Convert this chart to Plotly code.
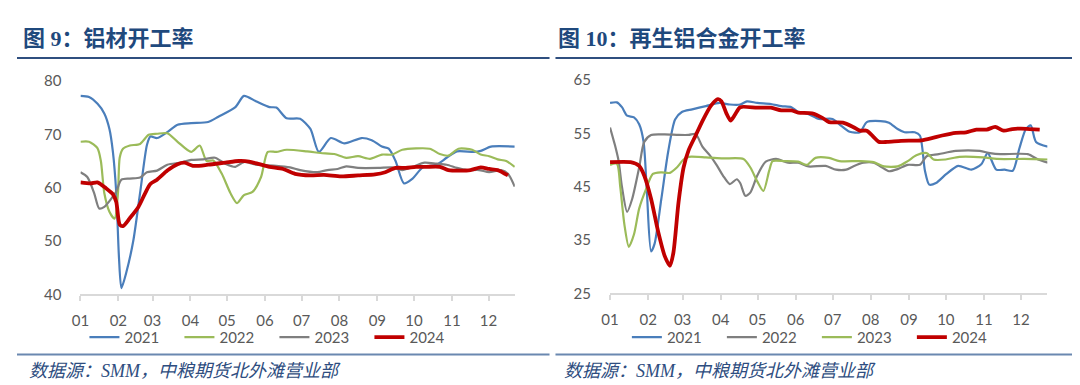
import pandas as pd
import plotly.graph_objects as go

# ---------------- data ----------------
MONTH_LABELS = ["01", "02", "03", "04", "05", "06", "07", "08", "09", "10", "11", "12"]
LEFT_TITLE = "图 9：铝材开工率"
RIGHT_TITLE = "图 10：再生铝合金开工率"
SOURCE = "数据源：SMM，中粮期货北外滩营业部"

# Left chart: aluminium products operating rate (day-of-year, value)
alu21_day = [0, 7, 14, 19.5, 23.7, 26.5, 29.3, 31.5, 33.5, 37.6, 43.2, 48.8, 54.4, 57.2, 62.7, 71.1, 79.5, 90.6,
             104.5, 112.9, 126.8, 133.8, 143.6, 154.7, 160.3, 168.7, 179.8, 188.2, 195.1, 204.9, 216.1, 230, 238.4,
             246.7, 252.3, 257.9, 264.8, 271.8, 280.2, 291.3, 299.7, 308.1, 322, 327.6, 336, 355.4]
alu21_val = [77.2, 77.0, 75.7, 73.9, 71.0, 66.8, 59.0, 47.0, 41.2, 44.2, 50.0, 59.0, 68.0, 69.6, 69.3, 70.4, 71.8, 72.1,
             72.3, 73.3, 75.1, 77.2, 76.2, 75.1, 75.0, 73.0, 72.9, 71.0, 66.7, 69.3, 68.3, 69.3, 68.9,
             67.7, 67.3, 65.0, 60.8, 61.7, 63.8, 64.3, 65.6, 66.8, 66.7, 66.9, 67.7, 67.7]

alu22_day = [0, 7, 13.9, 16.7, 19.5, 23.7, 27.9, 30.7, 32.1, 34.8, 40.4, 48.8, 55.8, 62.7, 71.1, 79.5, 90.6, 97.6,
             103.2, 108.7, 115.7, 122.7, 128.2, 133.8, 140.8, 147.8, 153.3, 160.3, 168.7, 185.4, 196.5, 207.7,
             217.5, 227.2, 237, 246.7, 255.1, 263.4, 285.8, 294.1, 301.1, 309.4, 320.6, 327.6, 334.5, 341.5,
             348.5, 355.4]
alu22_val = [68.6, 68.6, 67.4, 65.0, 59.0, 55.5, 54.2, 59.0, 65.6, 67.3, 67.9, 68.2, 69.9, 70.1, 70.2, 68.6, 66.7, 67.9,
             65.0, 65.1, 62.6, 59.0, 57.1, 58.6, 59.2, 62.0, 66.7, 66.7, 67.1, 66.8, 66.5, 66.3,
             65.6, 65.9, 65.4, 66.2, 66.2, 67.1, 67.3, 66.3, 66.0, 67.3, 67.1, 66.2, 65.9, 65.3,
             65.0, 63.9]

alu23_day = [0, 5.6, 11.2, 15.3, 19.5, 25.1, 29.3, 33.5, 40.4, 48.8, 54.4, 62.7, 71.1, 82.2, 90.6, 100.4, 110.1,
             118.5, 126.8, 133.8, 143.6, 160.3, 171.5, 179.8, 193.8, 202.1, 210.5, 217.5, 227.2, 243.9, 255.1,
             263.4, 271.8, 281.6, 291.3, 299.7, 308.1, 316.4, 326.2, 334.5, 344.3, 349.9, 355.4]
alu23_val = [62.9, 62.0, 59.0, 56.1, 56.4, 57.9, 59.3, 61.5, 61.7, 61.9, 62.9, 63.2, 64.3, 64.7, 65.2, 65.3, 65.6,
             64.5, 63.9, 64.8, 64.3, 64.1, 63.8, 63.3, 62.9, 63.3, 63.5, 64.0, 63.7, 63.7, 63.8,
             63.3, 63.9, 64.7, 64.5, 64.3, 63.7, 63.3, 63.3, 62.9, 63.3, 62.6, 60.2]

alu24_day = [0, 8.4, 13.9, 20.9, 26.5, 29.3, 32.1, 34.8, 40.4, 47.4, 53, 57.2, 62.7, 71.1, 79.5, 85, 92, 104.5,
             118.5, 129.6, 138, 146.4, 154.7, 165.9, 175.6, 188.2, 199.3, 213.3, 227.2, 241.1, 249.5, 257.9,
             266.2, 274.6, 283, 294.1, 301.1, 310.8, 319.2, 327.6, 334.5, 341.5, 349.9]
alu24_val = [61.0, 60.8, 61.0, 59.9, 58.8, 57.3, 53.1, 52.8, 54.3, 56.4, 59.0, 60.7, 61.5, 63.2, 64.4, 64.7, 64.1, 64.3,
             64.7, 65.0, 64.9, 64.4, 63.9, 63.5, 62.6, 62.3, 62.4, 62.1, 62.3, 62.5, 62.9, 63.7,
             63.7, 63.9, 63.9, 63.9, 63.3, 63.2, 63.3, 63.8, 63.5, 63.3, 62.3]

# Right chart: secondary aluminium alloy operating rate
sec21_day = [0, 5.6, 9.7, 13.9, 19.5, 23.7, 27.3, 30, 33.4, 36.2, 41.7, 47.3, 52.9, 58.4, 66.8, 77.9, 89, 97.4,
             105.8, 111.3, 119.7, 130.8, 139.2, 147.5, 153, 161.4, 169.8, 180.9, 186.5, 194.8, 203.2, 208.7,
             219.9, 226.8, 233.8, 239.4, 247.7, 251.9, 256, 259.5, 265, 273.5, 283, 293.7, 301.8, 307, 314,
             320.7, 327.4, 332.8, 338, 342, 346.3, 356]
sec21_val = [60.7, 60.8, 59.9, 58.3, 58.0, 56.7, 53.4, 43.9, 32.9, 34.3, 42.7, 51.6, 57.6, 59.0, 59.5, 60.1, 60.7, 60.4,
             60.4, 61.0, 60.7, 60.5, 60.1, 59.9, 59.0, 58.6, 57.7, 57.7, 56.7, 55.3, 55.2, 57.1,
             57.3, 57.0, 55.8, 55.2, 55.2, 54.6, 48.0, 45.4, 45.7, 47.4, 48.9, 48.2, 49.2, 51.3, 48.2,
             48.2, 48.0, 52.2, 55.8, 56.5, 53.4, 52.5]

sec22_day = [0, 4, 7, 9.7, 13.9, 18, 23.7, 27.8, 33.4, 44.5, 55.7, 64, 69.6, 75.1, 80.7, 86.3, 91.8, 97.4, 103,
             105.8, 110, 114, 119.7, 126.6, 135, 144.7, 153, 161.4, 175.3, 183.7, 192, 197.6, 206, 214.3,
             219.9, 226.8, 233.8, 242, 251.9, 257.4, 267.2, 281, 300.6, 308.9, 317.3, 339.6, 348, 356]
sec22_val = [56.1, 52.8, 49.8, 45.0, 40.3, 42.7, 48.6, 53.4, 54.7, 54.8, 54.7, 54.7, 54.9, 52.5, 51.0, 49.2, 47.1, 45.5, 46.4,
             45.7, 43.3, 43.9, 47.1, 49.7, 50.2, 49.5, 49.5, 48.8, 48.9, 48.2, 48.2, 48.8, 49.5, 49.5,
             48.8, 47.9, 48.3, 49.1, 49.1, 50.7, 51.1, 51.7, 51.7, 51.3, 51.1, 51.1, 50.1, 49.5]

sec23_day = [0, 5.6, 8.3, 11.7, 15.3, 19.5, 23.7, 29.2, 34.8, 41.7, 48.7, 54.3, 59.8, 64, 77.9, 91.8, 108.5, 114.1,
             119.7, 124.7, 129.4, 132.2, 141.9, 153, 160, 167, 178, 186.5, 203, 214.3, 222.7, 233.8, 242, 249,
             257.4, 263, 272.8, 283.9, 303.4, 314.5, 336.8, 356]
sec23_val = [49.1, 49.3, 45.0, 37.9, 33.75, 36.1, 40.9, 44.5, 47.4, 47.7, 47.6, 48.6, 50.1, 50.6, 50.5, 50.3, 50.2, 48.6,
             46.0, 44.2, 48.0, 49.8, 49.8, 49.7, 49.1, 50.4, 50.4, 49.8, 49.8, 49.6, 48.8, 48.8, 49.8, 50.9,
             51.3, 50.1, 50.1, 50.6, 50.5, 50.2, 50.2, 50.1]

sec24_day = [0, 16.7, 23.7, 27.8, 33.4, 39, 44.5, 48.7, 51.5, 55.7, 59.8, 64, 69.6, 75.1, 82.1, 87.7, 90.5, 94.6,
             98, 101.6, 105.8, 119.7, 130.8, 139.2, 147.5, 153, 164.2, 172.6, 178.1, 189.3, 197.6, 203.2, 208.7,
             214.3, 218.5, 225.4, 236.6, 253.3, 261.6, 270, 281.1, 289.5, 297.8, 306.2, 313.1, 320, 327, 334,
             341, 349.3]
sec24_val = [49.6, 49.6, 48.9, 47.1, 42.7, 36.7, 32.0, 30.2, 32.6, 42.1, 48.6, 51.9, 54.6, 57.3, 60.2, 61.4, 61.0, 58.75,
             57.4, 58.5, 59.9, 59.8, 59.8, 59.3, 59.3, 58.9, 58.75, 57.9, 57.1, 57.0, 56.2, 55.5, 55.5,
             54.3, 53.4, 53.4, 53.6, 53.7, 54.1, 54.6, 55.1, 55.2, 55.7, 55.7, 56.2, 55.5, 55.8, 55.9,
             55.8, 55.7]

# ---------------- styling ----------------
W, H = 1080, 385
BASE = pd.Timestamp("2001-01-01")
BLUE, GREEN, GRAY, RED = "#4A7EBB", "#9BBB59", "#7F7F7F", "#C00000"
TICK_FONT = dict(family="Lato, Carlito, 'Open Sans', sans-serif", size=15, color="#595959")


def to_dates(days):
    return [BASE + pd.Timedelta(days=d) for d in days]


fig = go.Figure()

left_series = [("2021", alu21_day, alu21_val, BLUE, 2.2),
               ("2022", alu22_day, alu22_val, GREEN, 2.2),
               ("2023", alu23_day, alu23_val, GRAY, 2.2),
               ("2024", alu24_day, alu24_val, RED, 3.8)]
right_series = [("2021", sec21_day, sec21_val, BLUE, 2.2),
                ("2022", sec22_day, sec22_val, GRAY, 2.2),
                ("2023", sec23_day, sec23_val, GREEN, 2.2),
                ("2024", sec24_day, sec24_val, RED, 3.8)]

for name, d, v, c, w in left_series:
    fig.add_trace(go.Scatter(x=to_dates(d), y=v, name=name, mode="lines",
                             line=dict(color=c, width=w, shape="spline", smoothing=0.7),
                             xaxis="x", yaxis="y", legend="legend", hoverinfo="skip"))
for name, d, v, c, w in right_series:
    fig.add_trace(go.Scatter(x=to_dates(d), y=v, name=name, mode="lines",
                             line=dict(color=c, width=w, shape="spline", smoothing=0.7),
                             xaxis="x2", yaxis="y2", legend="legend2", hoverinfo="skip"))

month_starts = [BASE + pd.DateOffset(months=i) for i in range(12)]
x_range = [BASE, BASE + pd.Timedelta(days=355.5)]

xcommon = dict(range=x_range, tickvals=month_starts, ticktext=MONTH_LABELS, showline=True,
               linecolor="#D9D9D9", linewidth=1.5, ticks="outside", ticklen=5, tickcolor="#D9D9D9",
               tickwidth=1.5, showgrid=False, zeroline=False, tickfont=TICK_FONT, ticklabelstandoff=7,
               fixedrange=True)
ycommon = dict(showline=False, showgrid=False, zeroline=False, ticks="", tickfont=TICK_FONT,
               ticklabelstandoff=18, fixedrange=True)

fig.update_layout(
    width=W, height=H, margin=dict(l=0, r=0, t=0, b=0),
    paper_bgcolor="white", plot_bgcolor="white",
    xaxis=dict(domain=[64 / W, 502 / W], anchor="y", **xcommon),
    yaxis=dict(domain=[1 - 290 / H, 1 - 66 / H], anchor="x", range=[40, 80], tickvals=[40, 50, 60, 70, 80], **ycommon),
    xaxis2=dict(domain=[598 / W, 1039 / W], anchor="y2", **xcommon),
    yaxis2=dict(domain=[1 - 289 / H, 1 - 65 / H], anchor="x2", range=[25, 65], tickvals=[25, 35, 45, 55, 65], **ycommon),
    legend=dict(orientation="h", x=68 / W, xanchor="left", y=1 - 335 / H, yanchor="middle",
                font=TICK_FONT, entrywidth=50, bgcolor="rgba(0,0,0,0)", itemclick=False, itemdoubleclick=False),
    legend2=dict(orientation="h", x=615 / W, xanchor="left", y=1 - 335 / H, yanchor="middle",
                 font=TICK_FONT, entrywidth=50, bgcolor="rgba(0,0,0,0)", itemclick=False, itemdoubleclick=False),
    showlegend=True,
)

TITLE_FONT = dict(family="'Liberation Serif', 'Noto Sans CJK SC', serif", size=22, color="#1F497D")
SRC_FONT = dict(family="'Liberation Serif', 'Noto Sans CJK SC', serif", size=18, color="#2E4D80")

fig.add_annotation(text="<b>" + LEFT_TITLE + "</b>", xref="paper", yref="paper", x=4 / W, y=1 - 21 / H,
                   xanchor="left", yanchor="middle", showarrow=False, font=TITLE_FONT)
fig.add_annotation(text="<b>" + RIGHT_TITLE + "</b>", xref="paper", yref="paper", x=544 / W, y=1 - 21 / H,
                   xanchor="left", yanchor="middle", showarrow=False, font=TITLE_FONT)
fig.add_annotation(text="<i>" + SOURCE + "</i>", xref="paper", yref="paper", x=10 / W, y=1 - 370 / H,
                   xanchor="left", yanchor="middle", showarrow=False, font=SRC_FONT)
fig.add_annotation(text="<i>" + SOURCE + "</i>", xref="paper", yref="paper", x=550 / W, y=1 - 370 / H,
                   xanchor="left", yanchor="middle", showarrow=False, font=SRC_FONT)

for x0, x1 in [(0, 537), (543, 1078)]:
    fig.add_shape(type="line", xref="paper", yref="paper", x0=x0 / W, x1=x1 / W, y0=1 - 42 / H, y1=1 - 42 / H,
                  line=dict(color="#2F4F7F", width=2))
    fig.add_shape(type="line", xref="paper", yref="paper", x0=x0 / W, x1=x1 / W, y0=1 - 353 / H, y1=1 - 353 / H,
                  line=dict(color="#6A88B0", width=2))

fig.write_html("out.html")
